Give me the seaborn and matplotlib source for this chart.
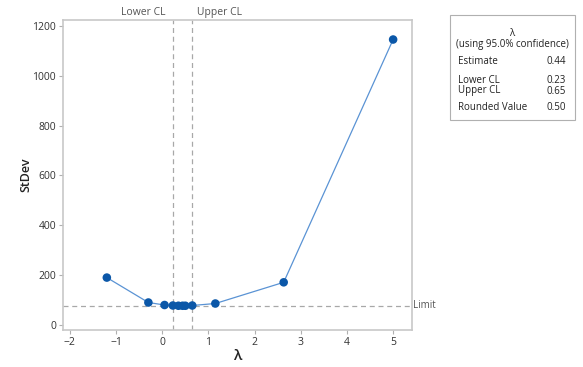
import matplotlib
matplotlib.use("Agg")
import matplotlib.pyplot as plt
import seaborn as sns
import pandas as pd

# Data
lambdas = [-1.2, -0.3, 0.05, 0.23, 0.35, 0.44, 0.50, 0.65, 1.15, 2.63, 5.0]
stdevs = [190, 90, 80, 78, 77, 77, 77, 78, 86, 171, 1145]
limit = 78
lower_cl = 0.23
upper_cl = 0.65
x_ticks = [-2, -1, 0, 1, 2, 3, 4, 5]
y_ticks = [0, 200, 400, 600, 800, 1000, 1200]
table_rows = [("Estimate", "0.44"), ("Lower CL", "0.23"), ("Upper CL", "0.65"), ("Rounded Value", "0.50")]

df = pd.DataFrame({"lam": lambdas, "sd": stdevs})

sns.set_theme(style="white")
plt.rcParams['font.family'] = ['Open Sans', 'DejaVu Sans']

fig = plt.figure(figsize=(5.83, 3.67), dpi=100)
ax = fig.add_axes([0.108, 0.101, 0.598, 0.845])

gray = '#a8a8a8'
ax.axhline(limit, color=gray, ls=(0, (4, 3)), lw=0.9, zorder=1)
ax.axvline(lower_cl, color=gray, ls=(0, (4, 3)), lw=0.9, zorder=1)
ax.axvline(upper_cl, color=gray, ls=(0, (4, 3)), lw=0.9, zorder=1)

sns.lineplot(data=df, x="lam", y="sd", ax=ax, color='#5a93d4', lw=0.9, sort=False, zorder=2)
sns.scatterplot(data=df, x="lam", y="sd", ax=ax, color='#0b57a8', s=38, edgecolor='none', zorder=3)

ax.set_xlim(-2.15, 5.40)
ax.set_ylim(-20, 1224)
ax.set_xticks(x_ticks)
ax.set_yticks(y_ticks)
ax.tick_params(axis='both', which='both', length=3, width=0.8, color='#b0b0b0',
               labelsize=7.5, labelcolor='#333333', direction='out', pad=2,
               bottom=True, left=True)
for s in ax.spines.values():
    s.set_color('#c8c8c8')
    s.set_linewidth(1.2)

ax.set_xlabel("λ", fontsize=10.5, color='#222222', labelpad=1, fontweight='semibold')
ax.set_ylabel("StDev", fontsize=9, color='#222222', labelpad=0, fontweight='semibold')

ax.text(lower_cl - 0.17, 1.006, "Lower CL", transform=ax.get_xaxis_transform(),
        ha='right', va='bottom', fontsize=7.5, color='#555555')
ax.text(upper_cl + 0.11, 1.006, "Upper CL", transform=ax.get_xaxis_transform(),
        ha='left', va='bottom', fontsize=7.5, color='#555555')
ax.text(1.005, limit, "Limit", transform=ax.get_yaxis_transform(),
        ha='left', va='center', fontsize=7, color='#555555')

# Info box
W, H = 583, 367
def fx(px):
    return px / W
def fy(py):
    return 1 - py / H

box = plt.Rectangle((fx(450), fy(120)), fx(575) - fx(450), fy(15) - fy(120),
                    transform=fig.transFigure, fill=False, edgecolor='#b0b0b0', lw=0.8)
fig.add_artist(box)
fig.text(fx(512), fy(33), "λ", ha='center', va='center', fontsize=7, color='#222222')
fig.text(fx(512), fy(45), "(using 95.0% confidence)", ha='center', va='center', fontsize=7, color='#222222')
ys = [62, 80.5, 91, 107]
for (lab, val), yy in zip(table_rows, ys):
    fig.text(fx(458), fy(yy), lab, ha='left', va='center', fontsize=7, color='#222222')
    fig.text(fx(566), fy(yy), val, ha='right', va='center', fontsize=7, color='#222222')

fig.savefig("out.png", dpi=100)
